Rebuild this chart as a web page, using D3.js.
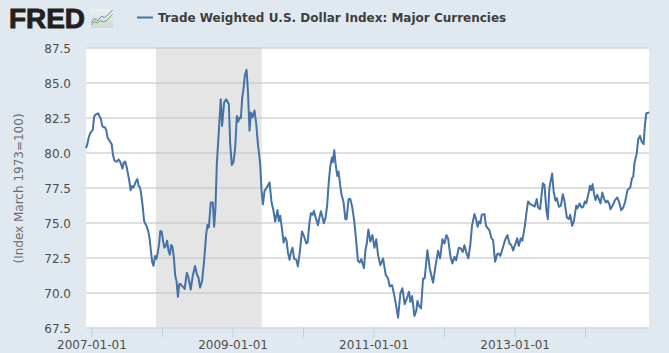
<!DOCTYPE html>
<html><head><meta charset="utf-8">
<script src="https://cdn.jsdelivr.net/npm/d3@7"></script>
<style>html,body{margin:0;padding:0;background:#e1e9f0;overflow:hidden}svg{display:block}text{font-family:"DejaVu Sans",sans-serif}</style>
</head><body><svg id="c" width="669" height="353"></svg>
<script>
const seriesName = "Trade Weighted U.S. Dollar Index: Major Currencies";
const yAxisTitle = "(Index March 1973=100)";
const startDate = "2006-12-04";
const weeks = [0,1,2,3,4,5,6,7,8,9,10,11,12,13,14,15,16,17,18,19,20,21,22,23,24,25,26,27,28,29,30,31,32,33,34,35,36,37,38,39,40,41,42,43,44,45,46,47,48,49,50,51,52,53,54,55,56,57,58,59,60,61,62,63,64,65,66,67,68,69,70,71,72,73,
74.6,75.8,77.5,79,80.7,82,83.2,84.4,85.9,87.4,88.9,89.9,90.9,92.3,93.8,94.8,95.8,96.8,98,99.7,100.7,102.2,103.7,105.7,106.7,107.9,109.1,110.4,111.6,112.6,113.6,114.6,115.6,116.5,117.5,118.8,119.8,121,122,123.2,124.7,126,127.2,128.9,129.9,130.9,132.1,133.8,135.8,137.3,138.5,140,
141.7,142.7,143.7,144.9,146.2,147.4,148.4,149.4,150.6,151.6,152.8,154,155.6,156.8,158.3,159.8,161.2,163,164,165.2,166.4,167.7,168.6,170.1,171.6,172.6,173.8,175,176,177.3,178.5,179.5,180.7,182,182.7,183.7,184.7,185.9,186.9,188.1,189.1,190.6,191.9,192.8,194.3,195.6,196.8,198.5,199.8,201.2,202.5,203.7,205.7,206.7,207.9,208.9,
210.4,211.9,213.4,214.8,216.1,217.8,219.8,221.8,223.5,224.7,226.5,228.2,229.4,230.9,232.6,234.1,235.8,237.6,239,240,241.3,243,244.5,245.2,246.5,247.9,249.4,250.6,252.6,254.4,256.8,258.5,260.5,262,263.7,265.2,266.7,267.9,269.7,271.1,272.6,273.9,275.8,277.3,278.8,280,281.3,
282.9,284.4,285.6,287.4,288.6,289.8,290.8,291.8,292.8,294.8,296,297.5,298.7,300,301.2,302.7,304.2,305.1,306.6,308.4,310.3,311.8,313.3,314.8,316,317.7,319,320.2,321.7,322.9,324.7,325.9,327.1,328.9,330.3,332,333.5,334.5,336,338,339.2,340.7,341.7,342.9,344.9,346.1,
347.4,348.4,349.9,351.4,352.8,354,355.8,357.3,358.3,359.7,361,362.7,363.7,365.2,366.7,367.9,369.1,370.1,372.1,372.8,373.8,374.8,376,377,378.3,379.5,380.7,382,383.4,384.7,385.9,387.2,388.1,389.9,391.4,393.1,394.3,396,397.5,398.8,400.7,402.7,404,404.9,405.9,407.4,408.6,409.9,411.1,412.6,413.6,414.6,416.8];
const values = [80.3,80.6,81.07,81.35,81.5,81.6,82.55,82.7,82.75,82.8,82.6,82.4,81.9,81.8,81.8,81.6,81.05,80.9,80.75,80.6,79.8,79.45,79.35,79.35,79.5,79.4,79.15,78.85,79.3,79.35,79,78.5,78,77.3,77.6,77.5,77.7,77.95,78.1,77.6,77.5,76.9,76.1,75.1,74.9,74.7,74.4,73.9,73,72.15,71.9,72.6,72.4,72.8,73.4,74.4,74.35,73.7,73.2,73.33,73.7,73,72.7,73.4,73.25,72.5,71.2,70.8,69.7,70.6,70.6,70.45,70.4,70.25,
71.4,71.07,70.2,71.2,71.9,71.3,71.07,70.35,70.83,72.26,74.15,74.83,74.64,76.43,76.43,74.7,76.07,79.17,81.07,83.8,81.9,83.57,83.8,83.45,80.6,79.1,79.3,80.36,82.6,82.2,82.5,82.45,83.93,84.5,85.5,85.9,84.4,81.55,82.86,82.5,83,82,80.6,79.17,77.26,76.3,77.26,77.5,77.86,76.43,75.95,75.07,
75.88,75.1,75.48,74.64,73.57,73.93,73.7,72.86,72.33,72.86,73.2,72.43,72.33,71.86,72.98,74.36,74.05,73.5,73.57,74.88,75.67,75.55,75.83,75.3,74.8,75.3,75.8,75.36,74.95,75.36,76.3,77.74,78.98,79.64,79.3,80.17,79.17,78.33,78.64,77.62,77,76.43,75.24,75.24,76.67,76.67,76.2,75.1,73.8,72.26,72.14,72.38,71.74,72.98,73.57,74.5,
73.64,74.1,73.2,73.8,72.67,71.95,72.43,71.24,71,70.45,70.52,69.74,69.1,68.2,69.93,70.3,69.17,69.64,70.05,69.33,69.74,68.33,68.74,69.4,69.02,68.86,71,71,73.02,71.7,70.7,71.83,72.98,72.43,73.8,73.5,74.1,73.86,72.55,72.07,72.55,72.3,73.2,73.14,72.9,73.38,72.9,
72.43,73.45,74.76,75.6,75.24,74.7,75.07,74.93,75.55,75.6,74.76,74.57,74.4,73.88,73.74,72.2,72.74,72.79,72.62,73.2,73.8,74.1,73.5,73.38,73,73.45,73.88,73.33,73.88,73.7,74.76,75.7,76.5,76.3,76.24,76.14,76.67,76.07,75.95,77.8,77.7,75.83,75.24,77.5,78.5,77.14,
76.55,76.74,76.12,76.2,77.02,76.55,75.36,75.24,75.55,74.76,75.12,76.19,76.02,76.36,76.07,76.12,76.5,76.36,77.2,77.62,77.31,77.74,77.02,76.6,76.98,76.67,76.36,77.14,76.67,76.43,76.55,76.31,75.95,76.26,76.6,76.79,76.5,75.88,76.07,76.43,77.33,77.5,78.17,78.26,79.29,79.88,80.95,81.19,80.79,80.6,82.02,82.81,82.86];
const yTicks = [67.5,70,72.5,75,77.5,80,82.5,85,87.5];
const xTicks = ["2007-01-01","2008-01-01","2009-01-01","2010-01-01","2011-01-01","2012-01-01","2013-01-01","2014-01-01"];
const xTickLabels = ["2007-01-01","2009-01-01","2011-01-01","2013-01-01"];
const recession = ["2007-12-01","2009-06-01"];
const domainEnd = "2014-11-28";
const logoBlue = [0,3,6,10,13,17,21];
const logoBlueV = [2,6,4,8,7,10,14];
const logoGreen = [0,3,6,9,12,15,18,21];
const logoGreenV = [0,3,2,4,3,4,7,10];

const day = 864e5, parse = s => new Date(s + "T00:00:00Z");
const t0 = +parse(startDate);
const data = weeks.map((w, i) => ({ date: new Date(t0 + w * 7 * day), v: values[i] }));

const L = 86, R = 649, T = 47.5, B = 327.5;
const x = d3.scaleUtc().domain([parse(startDate), parse(domainEnd)]).range([L, R]);
const y = d3.scaleLinear().domain([67.5, 87.5]).range([B, T]);
const svg = d3.select("#c");

svg.append("rect").attr("x", L).attr("y", T).attr("width", R - L).attr("height", B - T).attr("fill", "#fff");
svg.append("rect").attr("x", x(parse(recession[0]))).attr("y", T)
  .attr("width", x(parse(recession[1])) - x(parse(recession[0]))).attr("height", B - T).attr("fill", "#e5e5e5");

// horizontal grid + y labels through an axis
const yG = svg.append("g").attr("transform", `translate(${L},0)`)
  .call(d3.axisLeft(y).tickValues(yTicks).tickFormat(d3.format(".1f")).tickSize(0).tickPadding(15));
yG.select(".domain").remove();
yG.selectAll("text").attr("font-size", 12).attr("fill", "#4d4d4d").attr("font-family", '"DejaVu Sans",sans-serif').attr("y", 1);
yG.selectAll(".tick").filter(d => d !== 67.5).append("line")
  .attr("x1", 0).attr("x2", R - L).attr("stroke", "#c0c0c0").attr("stroke-width", 1);

// x axis
const xG = svg.append("g").attr("transform", `translate(0,${B})`)
  .call(d3.axisBottom(x).tickValues(xTicks.map(parse)).tickSize(10).tickPadding(2.5)
    .tickFormat(d => { const s = d3.utcFormat("%Y-%m-%d")(d); return xTickLabels.includes(s) ? s : ""; }));
xG.select(".domain").attr("d", `M${L},0.5H${R}`).attr("stroke", "#c0d0e0").attr("stroke-width", 1);
xG.selectAll(".tick line").attr("stroke", "#c0d0e0");
xG.selectAll("text").attr("font-size", 12).attr("fill", "#4d4d4d").attr("font-family", '"DejaVu Sans",sans-serif');

// series
svg.append("path").datum(data).attr("fill", "none").attr("stroke", "#4572a7").attr("stroke-width", 2)
  .attr("stroke-linejoin", "round")
  .attr("d", d3.line().x(d => x(d.date)).y(d => y(d.v)));

// y title
svg.append("text").attr("transform", `translate(23,${(T + B) / 2 + 1}) rotate(-90)`).attr("text-anchor", "middle")
  .attr("font-size", 12).attr("fill", "#6d6d6d").text(yAxisTitle);

// legend
svg.append("line").attr("x1", 137).attr("x2", 153).attr("y1", 17.5).attr("y2", 17.5).attr("stroke", "#4572a7").attr("stroke-width", 2);
svg.append("text").attr("x", 158).attr("y", 21.5).attr("font-size", 12).attr("font-weight", "bold").attr("fill", "#3e3e3e").text(seriesName);

// logo
svg.append("text").attr("x", 9).attr("y", 28).attr("font-size", 27).attr("font-weight", "bold")
  .style("font-family", '"Liberation Sans",sans-serif').attr("fill", "#231f20").attr("stroke", "#231f20").attr("stroke-width", 0.9)
  .attr("textLength", 76).attr("lengthAdjust", "spacingAndGlyphs").text("FRED");
const defs = svg.append("defs").append("linearGradient").attr("id", "lg").attr("x1", 0).attr("x2", 0).attr("y1", 0).attr("y2", 1);
defs.append("stop").attr("offset", 0).attr("stop-color", "#eef1f3");
defs.append("stop").attr("offset", 1).attr("stop-color", "#d3d6d8");
const logo = svg.append("g").attr("transform", "translate(91,9)");
logo.append("rect").attr("width", 22).attr("height", 19).attr("rx", 1).attr("fill", "url(#lg)");
const lx = d3.scaleLinear().domain([0, 21]).range([0.5, 21.5]), ly = d3.scaleLinear().domain([0, 14]).range([16, 1]);
const ll = d3.line().x(d => lx(d[0])).y(d => ly(d[1]));
logo.append("path").attr("d", ll(logoBlue.map((d, i) => [d, logoBlueV[i]]))).attr("fill", "none").attr("stroke", "#5b8db8").attr("stroke-width", 1);
logo.append("path").attr("d", ll(logoGreen.map((d, i) => [d, logoGreenV[i]]))).attr("fill", "none").attr("stroke", "#6aa84f").attr("stroke-width", 1);
</script></body></html>
